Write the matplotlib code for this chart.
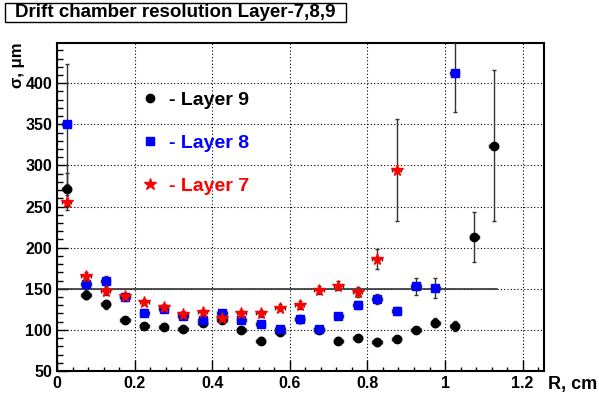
import numpy as np
import matplotlib.pyplot as plt
from matplotlib.lines import Line2D
from matplotlib.patches import Rectangle

plt.rcParams['font.family'] = ['Liberation Sans', 'DejaVu Sans']
plt.rcParams['font.weight'] = 'bold'

# Data (R in cm, sigma in um)
r9 = [0.025, 0.075, 0.125, 0.175, 0.225, 0.275, 0.325, 0.375, 0.425, 0.475,
      0.525, 0.575, 0.625, 0.675, 0.725, 0.775, 0.825, 0.875, 0.925, 0.975,
      1.025, 1.075, 1.125]
s9 = [271, 143, 131, 112, 105, 104, 101, 109, 112, 100,
      87, 98, 113, 100, 87, 90, 85, 89, 100, 109,
      105, 213, 324]
e9 = [20, 5, 5, 4, 4, 4, 4, 4, 4, 4,
      4, 4, 4, 4, 4, 4, 4, 4, 4, 5,
      6, 31, 92]

r8 = [0.025, 0.075, 0.125, 0.175, 0.225, 0.275, 0.325, 0.375, 0.425, 0.475,
      0.525, 0.575, 0.625, 0.675, 0.725, 0.775, 0.825, 0.875, 0.925, 0.975,
      1.025]
s8 = [350, 156, 160, 140, 121, 126, 117, 112, 120, 112,
      107, 101, 113, 101, 117, 130, 138, 123, 153, 151,
      413]
e8 = [73, 6, 6, 5, 4, 4, 4, 4, 4, 4,
      4, 4, 4, 4, 4, 5, 6, 5, 10, 12,
      48]

r7 = [0.025, 0.075, 0.125, 0.175, 0.225, 0.275, 0.325, 0.375, 0.425, 0.475,
      0.525, 0.575, 0.625, 0.675, 0.725, 0.775, 0.825, 0.875]
s7 = [255, 165, 147, 141, 134, 128, 119, 122, 115, 120,
      120, 127, 130, 149, 154, 146, 186, 295]
e7 = [9, 6, 5, 4, 4, 4, 4, 4, 4, 4,
      4, 4, 5, 5, 6, 6, 12, 62]

r_err = 0.012
ref_level = 150
ref_range = [0.0, 1.133]

fig = plt.figure(figsize=(5.99, 4.01), dpi=100)
ax = fig.add_axes([0.0952, 0.0748, 0.813, 0.818])

ax.plot(ref_range, [ref_level, ref_level], color='#333333', lw=1.2, zorder=2)

ax.errorbar(r9, s9, yerr=e9, xerr=r_err, fmt='o', color='black', ms=6,
            ecolor='#333333', elinewidth=1, capsize=1.5, zorder=3)
ax.errorbar(r8, s8, yerr=e8, xerr=r_err, fmt='s', color='blue', ms=6,
            ecolor='#333333', elinewidth=1, capsize=1.5, zorder=4)
ax.errorbar(r7, s7, yerr=e7, xerr=r_err, fmt='*', color='red', ms=8.5,
            ecolor='#333333', elinewidth=1, capsize=1.5, zorder=5)

ax.set_xlim(0, 1.255)
ax.set_ylim(50, 449)
ax.set_xticks([0, 0.2, 0.4, 0.6, 0.8, 1.0, 1.2])
ax.set_xticklabels(['0', '0.2', '0.4', '0.6', '0.8', '1', '1.2'])
ax.set_xticks(np.arange(0, 1.25, 0.04), minor=True)
ax.set_yticks(np.arange(50, 401, 50))
ax.set_yticks(np.arange(50, 450, 10), minor=True)
ax.tick_params(which='both', direction='in', labelsize=11.5)
ax.tick_params(which='major', length=8, width=1)
ax.tick_params(which='minor', length=4, width=1)
ax.tick_params(axis='x', which='minor', length=3)
for lab in ax.get_xticklabels() + ax.get_yticklabels():
    lab.set_fontweight('bold')
ax.grid(True, which='major', color='black', linestyle=(0, (1, 2)), lw=0.8)
for s in ax.spines.values():
    s.set_linewidth(1.5)

# legend
handles = [
    Line2D([], [], marker='o', color='black', ls='none', ms=6),
    Line2D([], [], marker='s', color='blue', ls='none', ms=6),
    Line2D([], [], marker='*', color='red', ls='none', ms=9),
]
ax.legend(handles, ['- Layer 9', '- Layer 8', '- Layer 7'],
          labelcolor=['black', 'blue', 'red'], frameon=False,
          prop={'size': 14, 'weight': 'bold'}, loc='upper left',
          bbox_to_anchor=(0.135, 0.905), labelspacing=1.3, handlelength=1.0,
          handletextpad=0.5)

fig.text(0.042, 0.895, r'σ, μm', rotation=90, ha='right', va='top',
         fontsize=12, fontweight='bold')
fig.text(0.997, 0.04, 'R, cm', ha='right', va='center', fontsize=13,
         fontweight='bold')

fig.patches.append(Rectangle((0.008, 0.945), 0.57, 0.048,
                             transform=fig.transFigure, fill=False,
                             edgecolor='black', lw=1))
fig.text(0.293, 0.969, 'Drift chamber resolution Layer-7,8,9', ha='center',
         va='center', fontsize=13.5, fontweight='bold')

fig.savefig('out.png', dpi=100)
